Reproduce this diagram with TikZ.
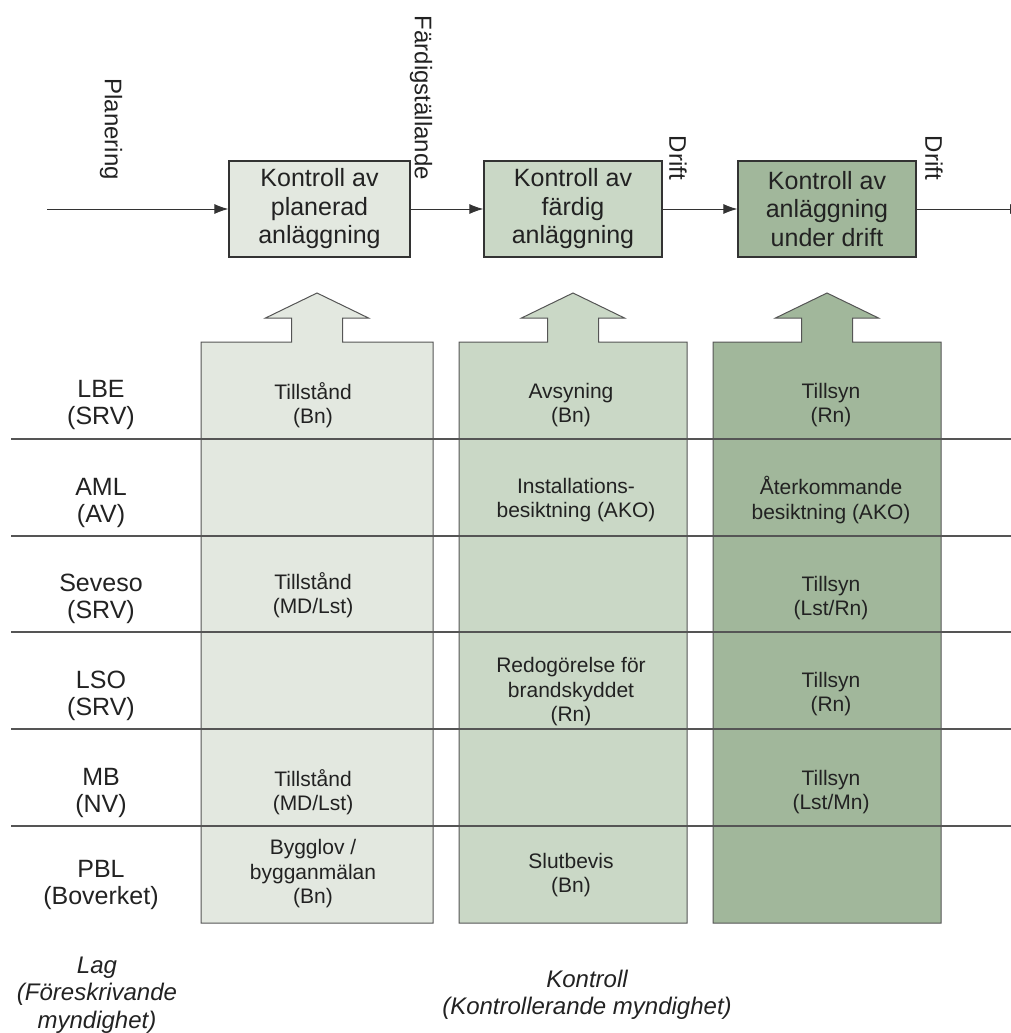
\documentclass[tikz,border=0pt]{standalone}
\usepackage{fontspec}
\setmainfont{Liberation Sans}
\usetikzlibrary{arrows.meta}

\definecolor{planGreen}{HTML}{E3E8E0}
\definecolor{doneGreen}{HTML}{CAD8C6}
\definecolor{runGreen}{HTML}{A1B79B}
\definecolor{txtGray}{HTML}{222222}
\definecolor{ruleGray}{HTML}{555555}

\tikzset{
  kbox/.style={draw=black!80, line width=1.2pt, minimum width=178pt, minimum height=96pt,
    inner sep=0pt, align=center, text=txtGray, font=\fontsize{25}{28.5}\selectfont},
  law/.style={align=center, text=txtGray, font=\fontsize{25}{26.5}\selectfont},
  cell/.style={align=center, text=txtGray, font=\fontsize{21}{24.5}\selectfont},
  phase/.style={rotate=-90, anchor=east, inner sep=0pt, text=txtGray, font=\fontsize{24}{24}\selectfont},
  foot/.style={align=center, text=txtGray, font=\fontsize{24}{27.5}\selectfont\itshape},
}

\begin{document}
\begin{tikzpicture}[>={Latex[length=14pt,width=10pt]}, x=1pt, y=-1pt]
	\useasboundingbox (0,0) rectangle (1011,1033);

	% kedjan av kontroller
	\coordinate (start) at (47,209);
	\node[kbox, fill=planGreen, minimum width=181pt] (plan) at (319.5,209) {Kontroll av\\planerad\\anläggning};
	\node[kbox, fill=doneGreen] (done) at (573,209) {Kontroll av\\färdig\\anläggning};
	\node[kbox, fill=runGreen] (run) at (827,209) {Kontroll av\\anläggning\\under drift};
	\coordinate (stop) at (1024,209);
	\draw[->, line width=1pt, black!80] (start) -- (plan);
	\draw[->, line width=1pt, black!80] (plan) -- (done);
	\draw[->, line width=1pt, black!80] (done) -- (run);
	\draw[->, line width=1pt, black!80] (run) -- (stop);

	\node[phase] (planering) at (111,180) {Planering};
	\node[phase] (fardig) at (421,180) {Färdigställande};
	\node[phase] (driftA) at (678,180) {Drift};
	\node[phase] (driftB) at (934,180) {Drift};

	% kolumner med pil upp
	\foreach \xa/\xb/\fillc in {201/433/planGreen, 459/687/doneGreen, 713/941/runGreen}{
		\pgfmathsetmacro\xm{(\xa+\xb)/2}
		\draw[ruleGray, line width=1pt, fill=\fillc] (\xa,923) -- (\xa,342) -- (\xm-25.5,342) -- (\xm-25.5,318)
			-- (\xm-51.5,318) -- (\xm,293) -- (\xm+51.5,318) -- (\xm+25.5,318) -- (\xm+25.5,342)
			-- (\xb,342) -- (\xb,923) -- cycle;
	}
	\foreach \y in {439,536,632,729,826}
		\draw[ruleGray, line width=1.5pt] (11,\y) -- (1011,\y);

	% lagar
	\node[law] (lbe) at (101,405) {LBE\\(SRV)};
	\node[law] (aml) at (101,503) {AML\\(AV)};
	\node[law] (seveso) at (101,599) {Seveso\\(SRV)};
	\node[law] (lso) at (101,696) {LSO\\(SRV)};
	\node[law] (mb) at (101,793) {MB\\(NV)};
	\node[law] (pbl) at (101,885) {PBL\\(Boverket)};

	% kontroller
	\node[cell] (tillstandA) at (313,405) {Tillstånd\\(Bn)};
	\node[cell] (avsyning) at (571,405) {Avsyning\\(Bn)};
	\node[cell] (tillsynA) at (831,405) {Tillsyn\\(Rn)};
	\node[cell] (installation) at (576,500) {Installations-\\besiktning (AKO)};
	\node[cell] (aterkommande) at (831,500) {Återkommande\\besiktning (AKO)};
	\node[cell] (tillstandB) at (313,595) {Tillstånd\\(MD/Lst)};
	\node[cell] (tillsynB) at (831,598) {Tillsyn\\(Lst/Rn)};
	\node[cell] (redogorelse) at (571,692) {Redogörelse för\\brandskyddet\\(Rn)};
	\node[cell] (tillsynC) at (831,694) {Tillsyn\\(Rn)};
	\node[cell] (tillstandC) at (313,792) {Tillstånd\\(MD/Lst)};
	\node[cell] (tillsynD) at (831,792) {Tillsyn\\(Lst/Mn)};
	\node[cell] (bygglov) at (313,874) {Bygglov /\\bygganmälan\\(Bn)};
	\node[cell] (slutbevis) at (571,875) {Slutbevis\\(Bn)};

	\node[foot] (lag) at (97,995) {Lag\\(Föreskrivande\\myndighet)};
	\node[foot] (kontroll) at (587,995) {Kontroll\\(Kontrollerande myndighet)};
\end{tikzpicture}
\end{document}
